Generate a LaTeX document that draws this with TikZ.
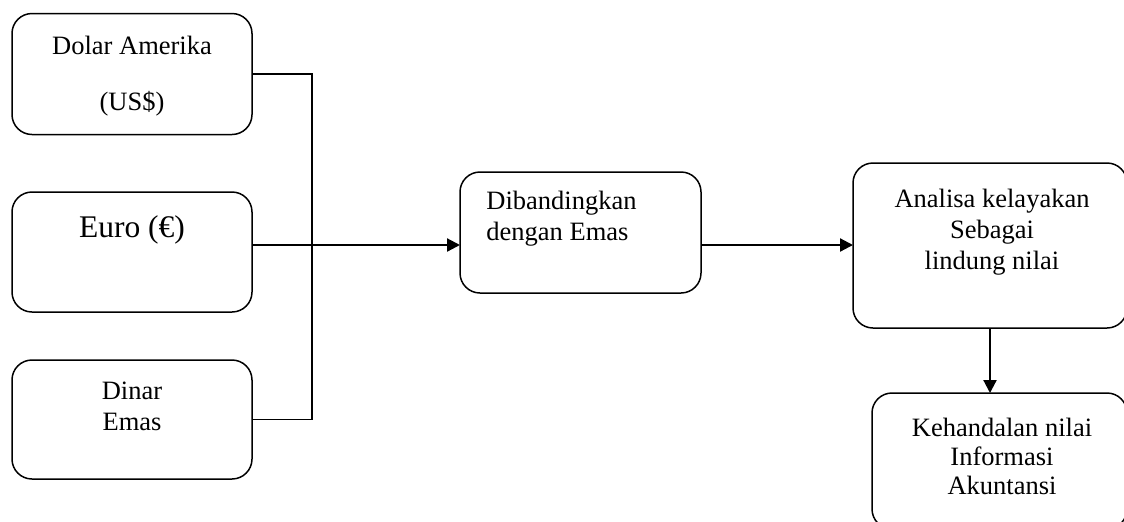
\documentclass[tikz,border=0pt]{standalone}
\usepackage{fontspec}
\setmainfont{Liberation Serif}
\usetikzlibrary{arrows.meta, calc}

\begin{document}
\begin{tikzpicture}[x=0.5pt, y=-0.5pt,% pixel grid of the page
         > = {Triangle[length=6.5pt, width=6.5pt]},
 box/.style = {draw, line width=0.75pt, rounded corners=10pt,
               inner sep=0pt, outer sep=0pt,
               node contents={}},
 txt/.style = {font=\fontsize{13.25pt}{15.5pt}\selectfont,
               align=center, inner sep=0pt},
link/.style = {line width=0.7pt},
flow/.style = {->, line width=1.1pt}
                        ]
	\useasboundingbox (0,0) rectangle (1124,521);
	\clip (0,0) rectangle (1124,521);

	% currencies
	\node (usd)   at (132,74)    [box, minimum width=120pt, minimum height=60.5pt];
	\node (euro)  at (132,252)   [box, minimum width=120pt, minimum height=60pt];
	\node (dinar) at (132,419.5) [box, minimum width=120pt, minimum height=59.5pt];

	\node[txt] (usdtext) at (132,76) {Dolar Amerika\\[12.5pt](US\$)};
	\node[txt, font=\fontsize{15.75pt}{18pt}\selectfont] (eurotext) at (132,230) {Euro (€)};
	\node[txt] (dinartext) at (132,406.5) {Dinar\\Emas};

	% comparison and result
	\node (cmp)    at (580.5,232.5) [box, minimum width=120.5pt, minimum height=60.5pt];
	\node (hedge)  at (990,245.5)   [box, minimum width=137pt, minimum height=82.5pt];
	\node (reliab) at (999.5,461)   [box, minimum width=127.5pt, minimum height=68pt];

	\node[txt, align=left, anchor=west] (cmptext) at (486,219) {Dibandingkan\\dengan Emas};
	\node[txt] (hedgetext) at (992,232.5) {Analisa kelayakan\\Sebagai\\lindung nilai};
	\node[txt, font=\fontsize{13.25pt}{14.5pt}\selectfont] (reliabtext) at (1002,456.5)
		{Kehandalan nilai\\Informasi\\Akuntansi};

	% connectors
	\coordinate (join) at (312,245);
	\draw[link] (usd.east) -| (join);
	\draw[link] (dinar.east) -| (join);
	\draw[link] (euro.east |- join) -- (join);
	\draw[flow] (join) -- (cmp.west |- join);
	\draw[flow] (cmp.east |- join) -- (hedge.west |- join);
	\draw[flow] (hedge.south) -- (hedge.south |- reliab.north);
\end{tikzpicture}
\end{document}
